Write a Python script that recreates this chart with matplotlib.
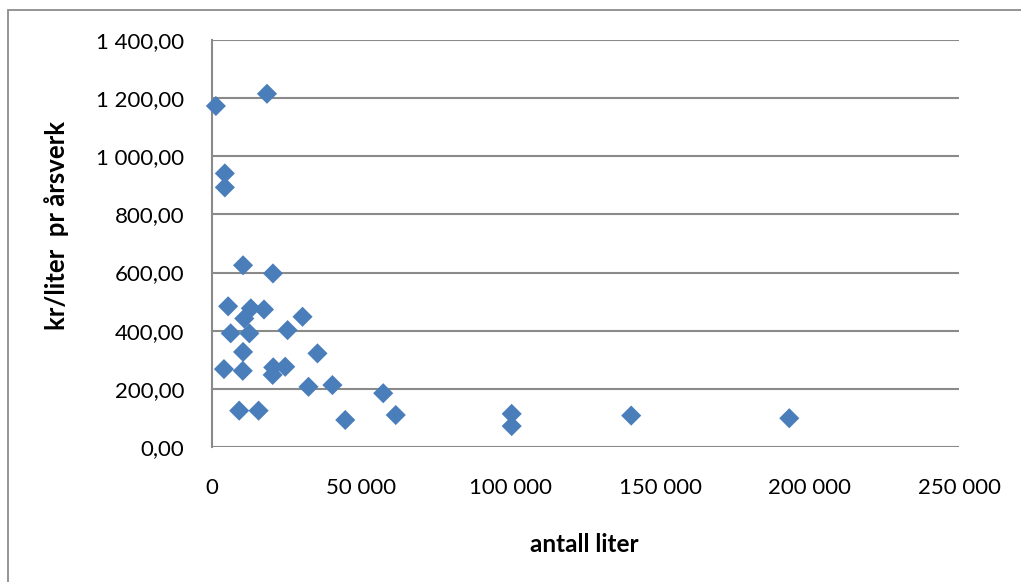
import matplotlib
matplotlib.use("Agg")
import matplotlib.pyplot as plt
from matplotlib.patches import Rectangle

# Data
antall_liter = [1300, 18400, 4300, 4300, 10400, 20400, 5400, 13000, 17400, 30300,
                10800, 6250, 12500, 25300, 10400, 35300, 4000, 10300, 20500, 20300,
                24500, 32300, 40300, 9100, 15600, 44600, 57300, 61500, 100300, 100300,
                140300, 193200]
kr_per_liter = [1173, 1215, 941, 893, 625, 597, 484, 477, 473, 448,
                442, 391, 391, 402, 327, 322, 268, 262, 274, 248,
                276, 207, 213, 125, 125, 93, 185, 110, 114, 72,
                108, 99]

x_ticks = [0, 50000, 100000, 150000, 200000, 250000]
x_tick_labels = ["0", "50 000", "100 000", "150 000", "200 000", "250 000"]
y_ticks = [0, 200, 400, 600, 800, 1000, 1200, 1400]
y_tick_labels = ["0,00", "200,00", "400,00", "600,00", "800,00", "1 000,00", "1 200,00", "1 400,00"]

x_label = "antall liter"
y_label = "kr/liter  pr årsverk"

W, H = 1021, 582
fig = plt.figure(figsize=(W / 100, H / 100), dpi=100)
fig.patch.set_facecolor("white")

# outer chart border (only top and left visible)
fig.add_artist(Rectangle((8 / W, -0.2), 2.0, (H - 10) / H + 0.2, transform=fig.transFigure,
                         fill=False, edgecolor="#8c8c8c", linewidth=1.3))

left, right, top, bottom = 212, 959, 40, 447
ax = fig.add_axes([left / W, 1 - bottom / H, (right - left) / W, (bottom - top) / H])

grid_col = "#8a8a8a"
ax.set_xlim(0, 250000)
ax.set_ylim(0, 1400)
ax.set_xticks(x_ticks)
ax.set_xticklabels(x_tick_labels)
ax.set_yticks(y_ticks)
ax.set_yticklabels(y_tick_labels)

for t in y_ticks:
    ax.axhline(t, color=grid_col, linewidth=1.5, zorder=1)

for s in ["top", "right", "bottom"]:
    ax.spines[s].set_visible(False)
ax.spines["left"].set_color(grid_col)
ax.spines["left"].set_linewidth(1.5)

ax.tick_params(axis="both", length=0, labelsize=16, colors="black")
ax.tick_params(axis="y", pad=20)
ax.tick_params(axis="x", pad=22)
for lab in ax.get_xticklabels() + ax.get_yticklabels():
    lab.set_fontfamily("Lato")

ax.scatter(antall_liter, kr_per_liter, marker="D", s=105, color="#4a7ebb",
           edgecolors="none", zorder=3, clip_on=False)

fig.text(584 / W, 1 - 544 / H, x_label, ha="center", va="center",
         fontsize=17.5, fontweight="bold", family="Lato")
fig.text(57 / W, 1 - 225 / H, y_label, ha="center", va="center", rotation=90,
         fontsize=18.5, fontweight="bold", family="Lato")

fig.savefig("out.png", dpi=100, facecolor="white")
